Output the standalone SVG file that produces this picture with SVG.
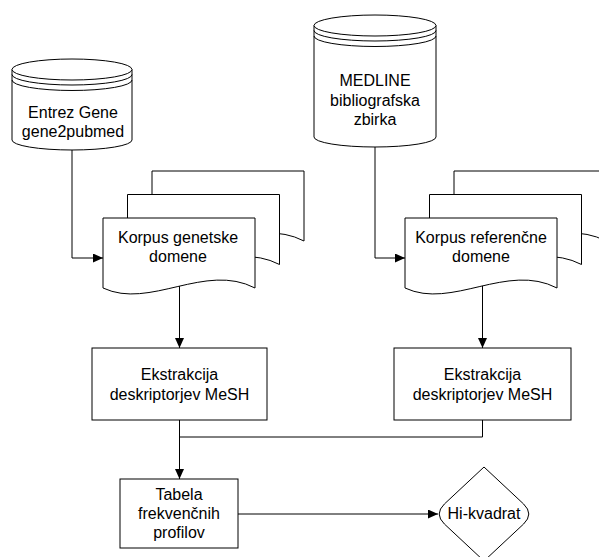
<svg xmlns="http://www.w3.org/2000/svg" xmlns:xlink="http://www.w3.org/1999/xlink" width="599" height="557" viewBox="0 0 599 557">
<style>
.s{fill:#fff;stroke:#000;stroke-width:1}
.n{fill:none;stroke:#000;stroke-width:1}
.t{font-family:"Liberation Sans",Arial,sans-serif;font-size:16px;fill:#000;text-anchor:middle}
</style>
<defs>
<marker id="ah" markerUnits="userSpaceOnUse" markerWidth="11" markerHeight="9" refX="10" refY="4.5" orient="auto">
<path d="M0,0 L10,4.5 L0,9 Z" fill="#000"/>
</marker>
<path id="doc" d="M0,0 H152 V70 C102,44 47,92 0,70 Z"/>
</defs>
<rect width="599" height="557" fill="#fff"/>
<g id="connectors" class="n">
<path d="M72,150 V258 H103" marker-end="url(#ah)"/>
<path d="M375,147 V258 H405" marker-end="url(#ah)"/>
<path d="M179.5,285 V348" marker-end="url(#ah)"/>
<path d="M482.5,285 V348" marker-end="url(#ah)"/>
<path d="M179.5,420 V479" marker-end="url(#ah)"/>
<path d="M482.5,420 V437 H179.5"/>
<path d="M238,514 H438" marker-end="url(#ah)"/>
</g>
<g id="entrez">
<path class="s" d="M12,69.5 V140 A60,10 0 0 0 132,140 V69.5"/>
<ellipse class="s" cx="72" cy="69.5" rx="60" ry="10.5"/>
<path class="n" d="M12,74.5 A60,10.5 0 0 0 132,74.5 M12,80 A60,10.5 0 0 0 132,80"/>
<text class="t" x="73" y="118">Entrez Gene</text>
<text class="t" x="73" y="137">gene2pubmed</text>
</g>
<g id="medline">
<path class="s" d="M314,25.5 V137 A61,10 0 0 0 436,137 V25.5"/>
<ellipse class="s" cx="375" cy="25.5" rx="61" ry="10.5"/>
<path class="n" d="M314,30.5 A61,10.5 0 0 0 436,30.5 M314,36 A61,10.5 0 0 0 436,36"/>
<text class="t" x="375" y="86">MEDLINE</text>
<text class="t" x="375" y="106">bibliografska</text>
<text class="t" x="375" y="125">zbirka</text>
</g>
<g id="korpus-gen">
<use href="#doc" xlink:href="#doc" class="s" x="152" y="171"/>
<use href="#doc" xlink:href="#doc" class="s" x="127.5" y="194.5"/>
<use href="#doc" xlink:href="#doc" class="s" x="103" y="218"/>
<text class="t" x="178" y="243">Korpus genetske</text>
<text class="t" x="178" y="262">domene</text>
</g>
<g id="korpus-ref">
<use href="#doc" xlink:href="#doc" class="s" x="454" y="171"/>
<use href="#doc" xlink:href="#doc" class="s" x="429.5" y="194.5"/>
<use href="#doc" xlink:href="#doc" class="s" x="405" y="218"/>
<text class="t" x="481" y="243">Korpus referenčne</text>
<text class="t" x="481" y="262">domene</text>
</g>
<g id="ekstr-1">
<rect class="s" x="92" y="348" width="175" height="72"/>
<text class="t" x="179.5" y="380">Ekstrakcija</text>
<text class="t" x="179.5" y="400">deskriptorjev MeSH</text>
</g>
<g id="ekstr-2">
<rect class="s" x="394" y="348" width="177" height="72"/>
<text class="t" x="482.5" y="380">Ekstrakcija</text>
<text class="t" x="482.5" y="400">deskriptorjev MeSH</text>
</g>
<g id="tabela">
<rect class="s" x="120" y="479" width="118" height="69"/>
<text class="t" x="179" y="500">Tabela</text>
<text class="t" x="179" y="519">frekvenčnih</text>
<text class="t" x="179" y="538">profilov</text>
</g>
<g id="hikvadrat">
<path class="s" d="M484,467 L523.6,504 Q534,514 523.6,524 L484,561 L444.4,524 Q434,514 444.4,504 Z"/>
<text class="t" x="484" y="519">Hi-kvadrat</text>
</g>
</svg>
